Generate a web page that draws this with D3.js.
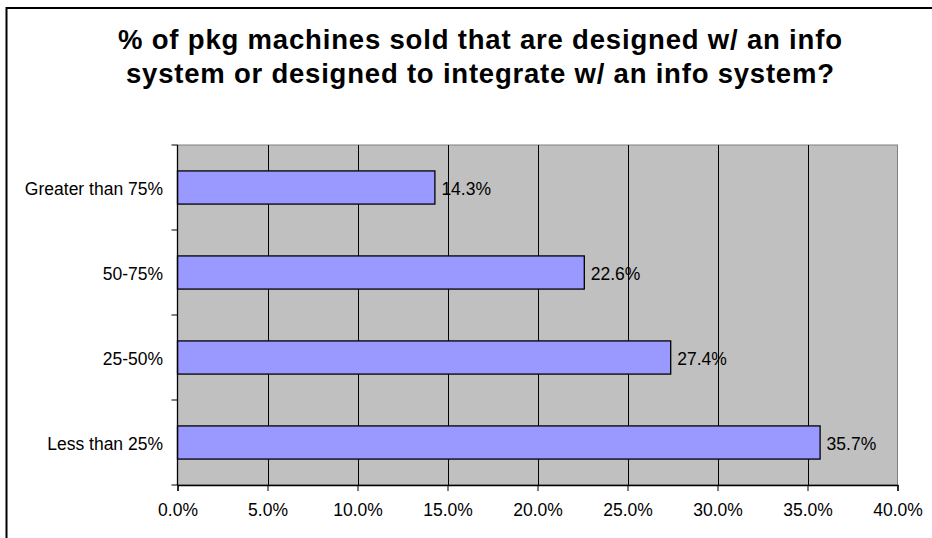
<!DOCTYPE html>
<meta charset="utf-8">
<head>
  <title>pkg machines info system</title>
  <script src="https://d3js.org/d3.v7.min.js"></script>
  <style>
    body { margin: 0; background: #fff; }
    text { font-family: "Liberation Sans", Arial, sans-serif; fill: #000; }
  </style>
</head>
<body>
<svg></svg>
<script>
var categories = ["Greater than 75%", "50-75%", "25-50%", "Less than 25%"];
var values = [14.3, 22.6, 27.4, 35.7];
var xTicks = [0, 5, 10, 15, 20, 25, 30, 35, 40];
var titleLines = ["% of pkg machines sold that are designed w/ an info",
                  "system or designed to integrate w/ an info system?"];
var titleWidths = [724, 708];

var width = 932, height = 538;
var plot = {left: 177.5, top: 145, right: 897.5, bottom: 485};

var svg = d3.select("svg").attr("width", width).attr("height", height);

// outer chart border (runs off the right/bottom of the page)
svg.append("rect")
    .attr("x", 6.5).attr("y", 8)
    .attr("width", 1000).attr("height", 1000)
    .attr("fill", "#fff")
    .attr("stroke", "#000")
    .attr("stroke-width", 2);

// title
svg.append("g").selectAll("text")
    .data(titleLines)
    .enter().append("text")
    .attr("x", 480)
    .attr("y", function(d, i) { return 49 + i * 34; })
    .attr("text-anchor", "middle")
    .attr("textLength", function(d, i) { return titleWidths[i]; })
    .attr("lengthAdjust", "spacing")
    .style("font-size", "27.5px")
    .style("font-weight", "bold")
    .text(function(d) { return d; });

var x = d3.scaleLinear().domain([0, 40]).range([plot.left, plot.right]);
var y = d3.scaleBand().domain(categories).range([plot.top, plot.bottom])
    .paddingInner(0.61).paddingOuter(0.305);

// plot background
svg.append("rect")
    .attr("x", plot.left).attr("y", plot.top)
    .attr("width", plot.right - plot.left).attr("height", plot.bottom - plot.top)
    .attr("fill", "#c0c0c0")
    .attr("stroke", "#808080")
    .attr("stroke-width", 1);

// vertical gridlines
svg.append("g").selectAll("line")
    .data(xTicks.slice(1, -1))
    .enter().append("line")
    .attr("x1", function(d) { return Math.round(x(d)) + 0.5; })
    .attr("x2", function(d) { return Math.round(x(d)) + 0.5; })
    .attr("y1", plot.top).attr("y2", plot.bottom)
    .attr("stroke", "#000")
    .attr("stroke-width", 1);

// bars
svg.append("g").selectAll("rect")
    .data(values)
    .enter().append("rect")
    .attr("x", x(0))
    .attr("y", function(d, i) { return y(categories[i]); })
    .attr("width", function(d) { return x(d) - x(0); })
    .attr("height", y.bandwidth())
    .attr("fill", "#9999ff")
    .attr("stroke", "#000")
    .attr("stroke-width", 1.3);

// data labels
svg.append("g").selectAll("text")
    .data(values)
    .enter().append("text")
    .attr("x", function(d) { return x(d) + 6.5; })
    .attr("y", function(d, i) { return y(categories[i]) + y.bandwidth() / 2; })
    .attr("dy", "0.4em")
    .style("font-size", "17.5px")
    .text(function(d) { return d.toFixed(1) + "%"; });

// x axis
var xAxis = d3.axisBottom(x)
    .tickValues(xTicks)
    .tickSize(6)
    .tickPadding(13)
    .tickFormat(function(d) { return d.toFixed(1) + "%"; });

var gx = svg.append("g")
    .attr("transform", "translate(0," + plot.bottom + ")")
    .call(xAxis);
gx.select(".domain").attr("stroke", "#000").attr("stroke-width", 1.3);
gx.selectAll(".tick line").attr("stroke", "#000");
gx.selectAll(".tick text")
    .style("font-family", '"Liberation Sans", Arial, sans-serif')
    .style("font-size", "17.5px")
    .attr("fill", "#000");

// y axis: ticks sit on the band edges, labels in band centres
var yEdges = d3.range(categories.length + 1).map(function(i) {
  return plot.top + i * (plot.bottom - plot.top) / categories.length;
});
var gy = svg.append("g");
gy.append("line")
    .attr("x1", plot.left).attr("x2", plot.left)
    .attr("y1", plot.top).attr("y2", plot.bottom)
    .attr("stroke", "#000").attr("stroke-width", 1.3);
gy.selectAll("line.tick")
    .data(yEdges)
    .enter().append("line")
    .attr("class", "tick")
    .attr("x1", plot.left - 6).attr("x2", plot.left)
    .attr("y1", function(d) { return d; }).attr("y2", function(d) { return d; })
    .attr("stroke", "#000");
gy.selectAll("text")
    .data(categories)
    .enter().append("text")
    .attr("x", plot.left - 14.5)
    .attr("y", function(d) { return y(d) + y.bandwidth() / 2; })
    .attr("dy", "0.45em")
    .attr("text-anchor", "end")
    .style("font-size", "17.5px")
    .text(function(d) { return d; });
</script>
</body>
